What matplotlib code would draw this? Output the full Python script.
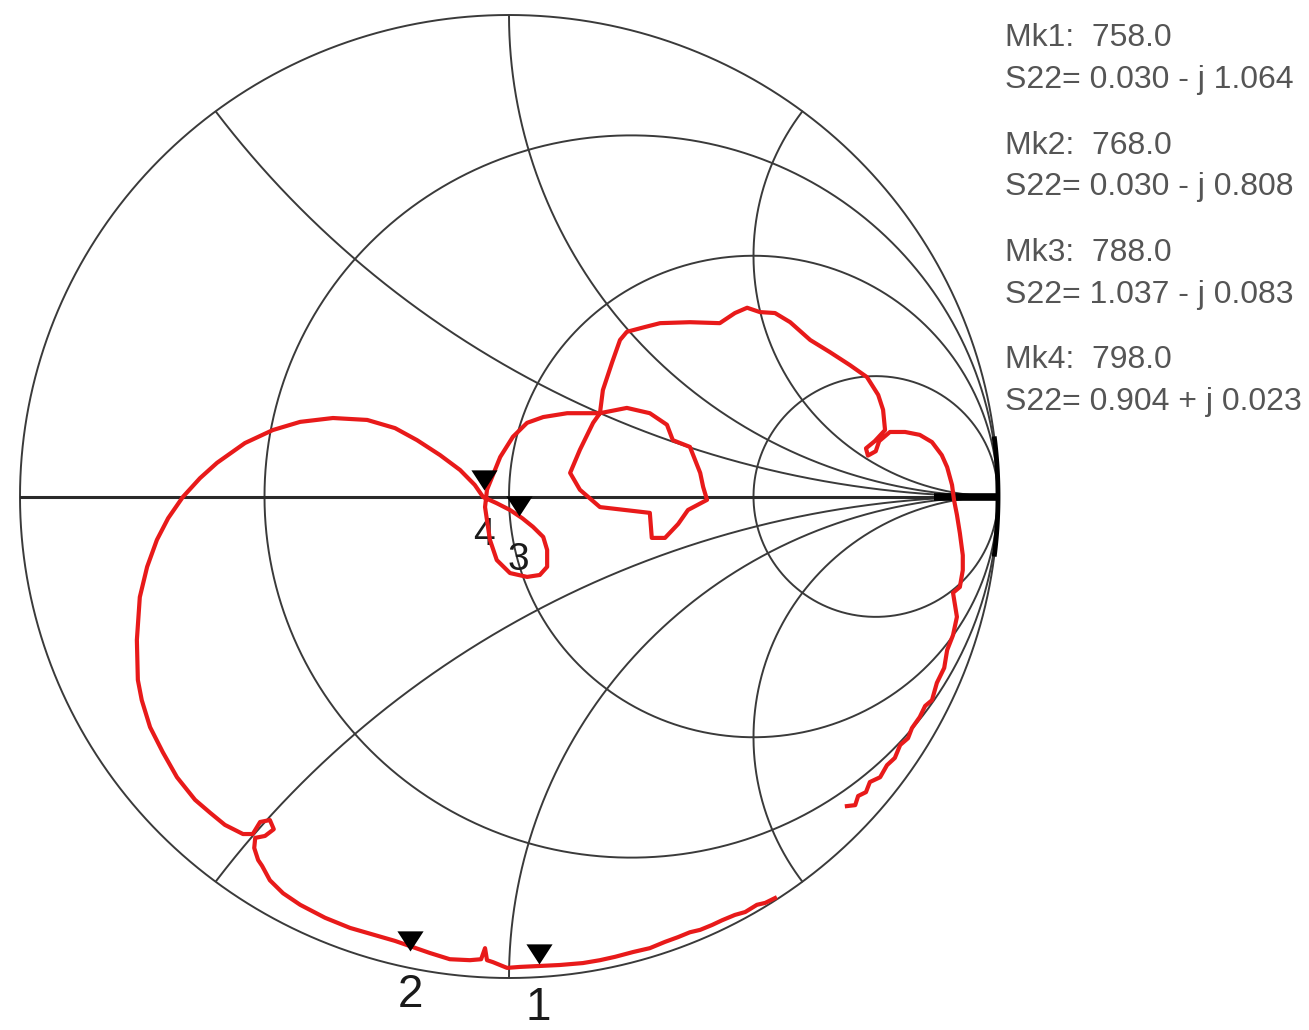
import numpy as np
import matplotlib
matplotlib.use("Agg")
import matplotlib.pyplot as plt
from matplotlib.path import Path

# ---------------------------------------------------------------------------
# Data
# ---------------------------------------------------------------------------
# Smith chart grid, normalised impedance
R_CIRCLES = [1 / 3, 1.0, 3.0]
X_ARCS    = [0.5, 1.0, 2.0]

# markers (freq in MHz, S22 as normalised impedance r + j x)
MK_NAMES  = ["Mk1", "Mk2", "Mk3", "Mk4"]
MK_FREQ   = [758.0, 768.0, 788.0, 798.0]
MK_R      = [0.030, 0.030, 1.037, 0.904]
MK_X      = [-1.064, -0.808, -0.083, 0.023]
MK_LABELS = ["1", "2", "3", "4"]

# S22 trace, reflection coefficient
TRACE_RE = [
    0.544, 0.524, 0.507, 0.483, 0.462, 0.436, 0.415, 0.391, 0.370, 0.346,
    0.319, 0.288, 0.254, 0.217, 0.186, 0.151, 0.104, 0.063, 0.022, -0.004,
    -0.033, -0.045, -0.049, -0.057, -0.080, -0.121, -0.162, -0.196, -0.233, -0.274,
    -0.325, -0.376, -0.427, -0.462, -0.489, -0.505, -0.513, -0.521, -0.519, -0.499,
    -0.481, -0.489, -0.509, -0.524, -0.544, -0.581, -0.611, -0.642, -0.679, -0.708,
    -0.734, -0.751, -0.759, -0.761, -0.755, -0.740, -0.720, -0.697, -0.667, -0.632,
    -0.597, -0.540, -0.483, -0.427, -0.360, -0.290, -0.233, -0.188, -0.141, -0.100,
    -0.070, -0.053, -0.025, 0.002, 0.027, 0.049, 0.070, 0.078, 0.078, 0.063,
    0.037, 0.002, -0.025, -0.039, -0.045, -0.049, -0.045, -0.018, 0.008, 0.037,
    0.070, 0.119, 0.186,
    0.172, 0.145, 0.125, 0.145, 0.186, 0.237, 0.288, 0.292, 0.319, 0.346,
    0.366, 0.405, 0.397, 0.391, 0.370, 0.335, 0.323, 0.288, 0.241, 0.186,
    0.192, 0.211, 0.227, 0.241, 0.278, 0.309, 0.370, 0.431, 0.462, 0.487,
    0.513, 0.544, 0.575, 0.616, 0.656, 0.697, 0.732, 0.755, 0.765, 0.769,
    0.748, 0.730, 0.734, 0.750, 0.757, 0.779, 0.810, 0.840, 0.865, 0.885,
    0.896, 0.906, 0.910, 0.916, 0.922, 0.928, 0.928, 0.922, 0.908, 0.916,
    0.908, 0.896, 0.890, 0.875, 0.865, 0.851, 0.840, 0.824, 0.816, 0.800,
    0.789, 0.773, 0.759, 0.738, 0.730, 0.714, 0.708, 0.691,
]
TRACE_IM = [
    -0.834, -0.844, -0.848, -0.863, -0.869, -0.880, -0.890, -0.900, -0.905, -0.915,
    -0.925, -0.938, -0.946, -0.956, -0.963, -0.969, -0.973, -0.975, -0.977, -0.979,
    -0.967, -0.963, -0.938, -0.961, -0.963, -0.961, -0.948, -0.936, -0.923, -0.911,
    -0.896, -0.875, -0.848, -0.824, -0.797, -0.767, -0.755, -0.730, -0.709, -0.705,
    -0.691, -0.672, -0.676, -0.701, -0.701, -0.682, -0.657, -0.630, -0.583, -0.531,
    -0.479, -0.423, -0.381, -0.298, -0.209, -0.146, -0.090, -0.045, -0.001, 0.038,
    0.070, 0.111, 0.138, 0.155, 0.163, 0.159, 0.142, 0.117, 0.086, 0.055,
    0.024, -0.001, -0.014, -0.028, -0.045, -0.063, -0.084, -0.111, -0.146, -0.163,
    -0.167, -0.159, -0.132, -0.090, -0.049, -0.022, 0.014, 0.082, 0.124, 0.153,
    0.165, 0.173, 0.173,
    0.153, 0.097, 0.049, 0.014, -0.022, -0.028, -0.034, -0.086, -0.086, -0.057,
    -0.028, -0.007, 0.020, 0.049, 0.103, 0.117, 0.149, 0.173, 0.184, 0.173,
    0.221, 0.279, 0.325, 0.342, 0.352, 0.360, 0.362, 0.360, 0.381, 0.392,
    0.383, 0.381, 0.362, 0.325, 0.300, 0.273, 0.248, 0.211, 0.180, 0.138,
    0.115, 0.100, 0.085, 0.094, 0.115, 0.134, 0.134, 0.128, 0.113, 0.086,
    0.061, 0.024, -0.007, -0.038, -0.076, -0.122, -0.153, -0.188, -0.200, -0.250,
    -0.288, -0.319, -0.356, -0.387, -0.423, -0.435, -0.458, -0.481, -0.502, -0.516,
    -0.543, -0.558, -0.583, -0.593, -0.614, -0.622, -0.641, -0.643,
]

GRID_COLOR  = "#3a3a3a"
TRACE_COLOR = "#e81a1a"
TEXT_COLOR  = "#555555"

plt.rcParams["font.family"] = ["Liberation Sans", "DejaVu Sans"]


def z_to_gamma(z):
    return (z - 1) / (z + 1)


# ---------------------------------------------------------------------------
# Figure
# ---------------------------------------------------------------------------
W, H = 1309, 1030
fig = plt.figure(figsize=(W / 100, H / 100), dpi=100)
ax = fig.add_axes([20 / W, 52 / H, 978 / W, 963 / H])
ax.set_xlim(-1, 1)
ax.set_ylim(-1, 1)
ax.axis("off")

t = np.linspace(0, 2 * np.pi, 3000)

# outer circle
ax.plot(np.cos(t), np.sin(t), color=GRID_COLOR, lw=1.4, clip_on=False)

# resistance circles
for r in R_CIRCLES:
    c, rad = r / (1 + r), 1 / (1 + r)
    ax.plot(c + rad * np.cos(t), rad * np.sin(t), color=GRID_COLOR, lw=1.4)

# reactance arcs (only the part inside the unit circle)
for x in X_ARCS:
    for s in (1, -1):
        re = 1 + (1 / x) * np.cos(t)
        im = s / x + (1 / x) * np.sin(t)
        inside = re ** 2 + im ** 2 <= 1.0005
        ax.plot(np.where(inside, re, np.nan), np.where(inside, im, np.nan),
                color=GRID_COLOR, lw=1.4)

# real axis, heavier where everything converges at the right
ax.plot([-1, 1], [0, 0], color="#2a2a2a", lw=2.2)
ax.plot([0.87, 1.0], [0, 0], color="black", lw=5.5, solid_capstyle="butt")
tt = np.linspace(-0.12, 0.12, 50)
ax.plot(np.cos(tt), np.sin(tt), color="black", lw=3.5, clip_on=False)

# trace
ax.plot(TRACE_RE, TRACE_IM, color=TRACE_COLOR, lw=3.0, zorder=5,
        solid_joinstyle="round")

# markers: downward triangle with its tip on the point
tri = Path([(-0.65, 1.0), (0.65, 1.0), (0.0, 0.0), (-0.65, 1.0)],
           [Path.MOVETO, Path.LINETO, Path.LINETO, Path.CLOSEPOLY])
mk_gamma = z_to_gamma(np.array(MK_R) + 1j * np.array(MK_X))
for g, lbl in zip(mk_gamma, MK_LABELS):
    ax.plot(g.real, g.imag, marker=tri, ms=29, color="black",
            markeredgewidth=0, zorder=6, clip_on=False)
    big = lbl in ("1", "2")
    ax.annotate(lbl, xy=(g.real, g.imag), xytext=(0, -32),
                textcoords="offset points", ha="center", va="center",
                fontsize=33 if big else 28, color="#1a1a1a",
                zorder=4, annotation_clip=False)

# marker readout
y0 = 38
for i, (name, f, r, x) in enumerate(zip(MK_NAMES, MK_FREQ, MK_R, MK_X)):
    sign = "+" if x >= 0 else "-"
    yc = y0 + i * 107.5
    fig.text(1005 / W, 1 - yc / H, f"{name}:  {f:.1f}",
             fontsize=23, color=TEXT_COLOR, va="center", ha="left")
    fig.text(1005 / W, 1 - (yc + 42) / H, f"S22= {r:.3f} {sign} j {abs(x):.3f}",
             fontsize=23, color=TEXT_COLOR, va="center", ha="left")

fig.savefig("out.png", dpi=100)
